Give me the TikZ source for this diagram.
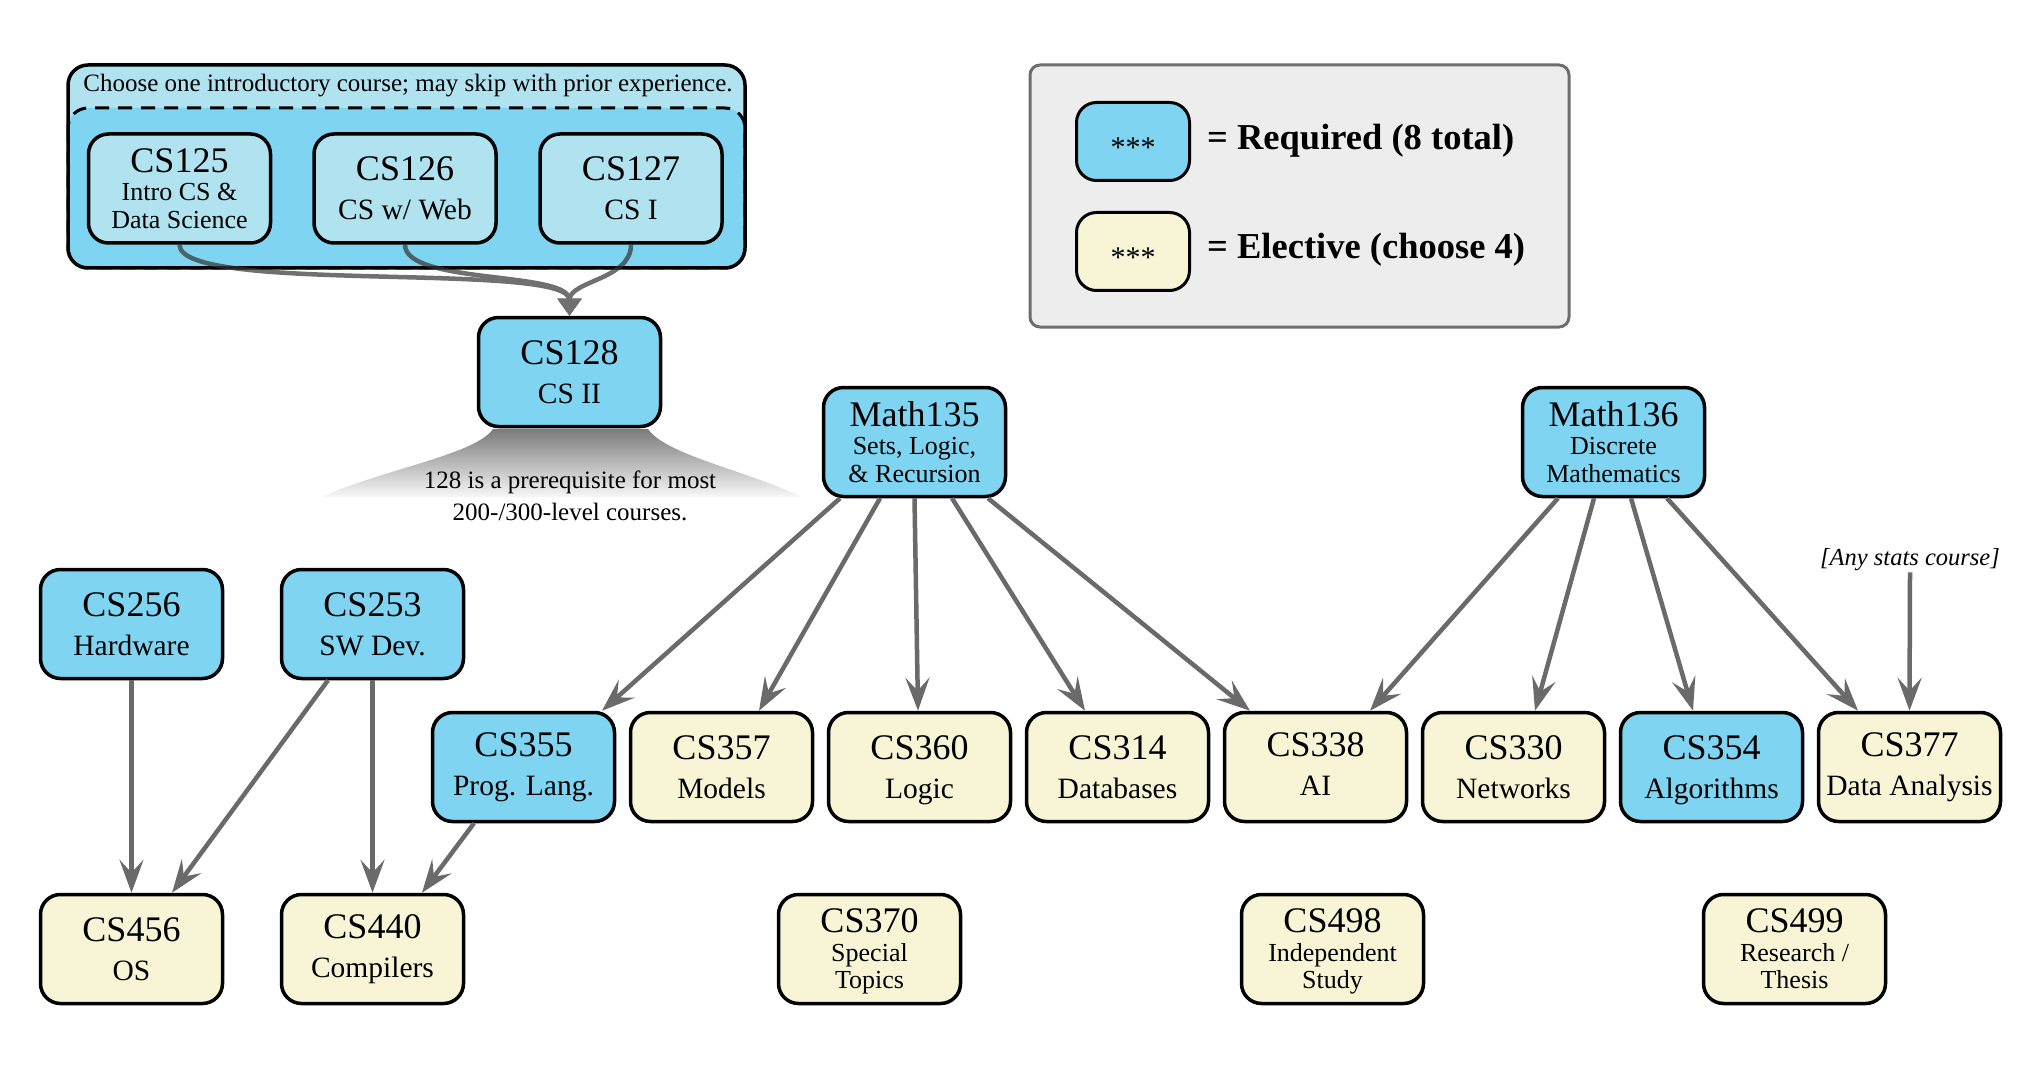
\documentclass[tikz,border=0pt]{standalone}
\usepackage{fontspec}
\setmainfont{Liberation Serif}
\usetikzlibrary{arrows.meta}

\definecolor{reqblue}{HTML}{7FD5F1}
\definecolor{introblue}{HTML}{B0E2F0}
\definecolor{elecyellow}{HTML}{F7F5D6}
\definecolor{keybg}{HTML}{EDEDED}
\definecolor{keyframe}{HTML}{6E6E6E}
\definecolor{edgegray}{HTML}{6A6A6A}

\tikzset{
	course/.style={draw, line width=3.5pt, rounded corners=20pt, minimum width=182pt, minimum height=109pt, inner sep=0pt, align=center, font=\fontsize{29.5}{39}\selectfont},
	req/.style={course, fill=reqblue},
	elec/.style={course, fill=elecyellow},
	intro/.style={course, fill=introblue},
	tall/.style={font=\fontsize{26}{27.5}\selectfont},
	swatch/.style={draw, line width=3pt, rounded corners=20pt, minimum width=113pt, minimum height=78pt, font=\fontsize{30}{34}\selectfont},
	keytext/.style={anchor=base west, inner sep=0pt, font=\fontsize{36.5}{40}\selectfont\bfseries},
	prereq/.style={draw=edgegray, line width=4.5pt, -{Stealth[length=33pt, width=24pt, inset=13pt]}},
	flow/.style={draw=black!80, line width=4.5pt, -{Triangle[length=17pt, width=23pt]}}
}
\newcommand{\cnum}[1]{{\fontsize{36}{39}\selectfont #1}}
\newcommand{\nodp}[1]{\raisebox{0pt}[\height][0pt]{#1}}
\newcommand{\stars}{\raisebox{-6pt}[\height][0pt]{***}}

\begin{document}
\begin{tikzpicture}[x=1pt, y=-1pt]
	\useasboundingbox (0,0) rectangle (2042,1067);

	\fill[introblue, rounded corners=20pt] (68,65) rectangle (745,268);
	\draw[fill=reqblue, line width=3pt, dash pattern=on 14pt off 9pt, rounded corners=20pt] (68,108) rectangle (745,268);
	\draw[line width=3.5pt, rounded corners=20pt] (68,65) rectangle (745,268);
	\node (introhead)[anchor=base, inner sep=0pt, font=\fontsize{25}{30}\selectfont] at (408,92) {Choose one introductory course; may skip with prior experience.};

	\node (c125)[intro, tall] at (179.5,188.5) {\cnum{CS125}\\[1pt]Intro CS \&\\Data Science};
	\node (c126)[intro] at (405,188.5) {\cnum{CS126}\\CS w/ Web};
	\node (c127)[intro] at (631,188.5) {\cnum{CS127}\\CS I};

	\draw[fill=keybg, draw=keyframe, line width=3pt, rounded corners=10pt] (1030,65) rectangle (1569,327);
	\node (keyreq)[swatch, fill=reqblue] at (1133,141.5) {\stars};
	\node (keyelec)[swatch, fill=elecyellow] at (1133,251.5) {\stars};
	\node (keyreqlbl)[keytext] at (1207,150) {= Required (8 total)};
	\node (keyeleclbl)[keytext] at (1207,259) {= Elective (choose 4)};

	\shade[top color=black!52, bottom color=black!3] (493,429) .. controls (475,455) and (380,470) .. (322,497) -- (802,497) .. controls (745,470) and (666,455) .. (648,429) -- cycle;
	\node (c128)[req] at (569.5,372) {\cnum{CS128}\\CS II};
	\node (note)[align=center, inner sep=0pt, font=\fontsize{25}{32}\selectfont] at (570,495.5) {128 is a prerequisite for most\\200-/300-level courses.};

	\node (m135)[req, tall] at (914.5,442) {\cnum{Math135}\\[1pt]Sets, Logic,\\\& Recursion};
	\node (m136)[req, tall] at (1613.5,442) {\cnum{Math136}\\[1pt]Discrete\\Mathematics};
	\node (stats)[anchor=base, inner sep=2pt, font=\fontsize{24.5}{28}\selectfont\itshape] at (1910,565) {[Any stats course]};

	\node (c256)[req] at (131.5,624) {\cnum{CS256}\\Hardware};
	\node (c253)[req] at (372.5,624) {\cnum{CS253}\\SW Dev.};

	\node (c355)[req] at (523.5,767) {\cnum{CS355}\\Prog. Lang.};
	\node (c357)[elec] at (721.5,767) {\cnum{CS357}\\Models};
	\node (c360)[elec] at (919.5,767) {\cnum{CS360}\\\nodp{Logic}};
	\node (c314)[elec] at (1117.5,767) {\cnum{CS314}\\Databases};
	\node (c338)[elec] at (1315.5,767) {\cnum{CS338}\\AI\vphantom{g}};
	\node (c330)[elec] at (1513.5,767) {\cnum{CS330}\\Networks};
	\node (c354)[req] at (1711.5,767) {\cnum{CS354}\\\nodp{Algorithms}};
	\node (c377)[elec] at (1909.5,767) {\cnum{CS377}\\Data Analysis};

	\node (c456)[elec] at (131.5,949) {\cnum{CS456}\\OS};
	\node (c440)[elec] at (372.5,949) {\cnum{CS440}\\Compilers};
	\node (c370)[elec, tall] at (869.5,949) {\cnum{CS370}\\[1pt]Special\\\nodp{Topics}};
	\node (c498)[elec, tall] at (1332.5,949) {\cnum{CS498}\\[1pt]Independent\\\nodp{Study}};
	\node (c499)[elec, tall] at (1794.5,949) {\cnum{CS499}\\[1pt]Research /\\Thesis};

	\begin{scope}[transparency group, opacity=0.7]
		\draw[flow] (c125.south) .. controls +(0,50) and +(0,-55) .. (c128.north);
		\draw[flow] (c126.south) .. controls +(0,40) and +(0,-45) .. (c128.north);
		\draw[flow] (c127.south) .. controls +(0,35) and +(0,-35) .. (c128.north);
	\end{scope}

	\draw[prereq] ([xshift=-74.5pt]m135.south) -- ([xshift=78.5pt]c355.north);
	\draw[prereq] ([xshift=-34.5pt]m135.south) -- ([xshift=37.5pt]c357.north);
	\draw[prereq] (m135.south) -- ([xshift=-1.5pt]c360.north);
	\draw[prereq] ([xshift=37.5pt]m135.south) -- ([xshift=-32.5pt]c314.north);
	\draw[prereq] ([xshift=73.5pt]m135.south) -- ([xshift=-65.5pt]c338.north);

	\draw[prereq] ([xshift=-55.5pt]m136.south) -- ([xshift=54.5pt]c338.north);
	\draw[prereq] ([xshift=-19.5pt]m136.south) -- ([xshift=21.5pt]c330.north);
	\draw[prereq] ([xshift=17.5pt]m136.south) -- ([xshift=-18.5pt]c354.north);
	\draw[prereq] ([xshift=53.5pt]m136.south) -- ([xshift=-51.5pt]c377.north);
	\draw[prereq] (stats.south) -- (c377.north);

	\draw[prereq] (c256.south) -- (c456.north);
	\draw[prereq] ([xshift=-44.5pt]c253.south) -- ([xshift=40.5pt]c456.north);
	\draw[prereq] (c253.south) -- (c440.north);
	\draw[prereq] ([xshift=-49.5pt]c355.south) -- ([xshift=49.5pt]c440.north);
\end{tikzpicture}
\end{document}
